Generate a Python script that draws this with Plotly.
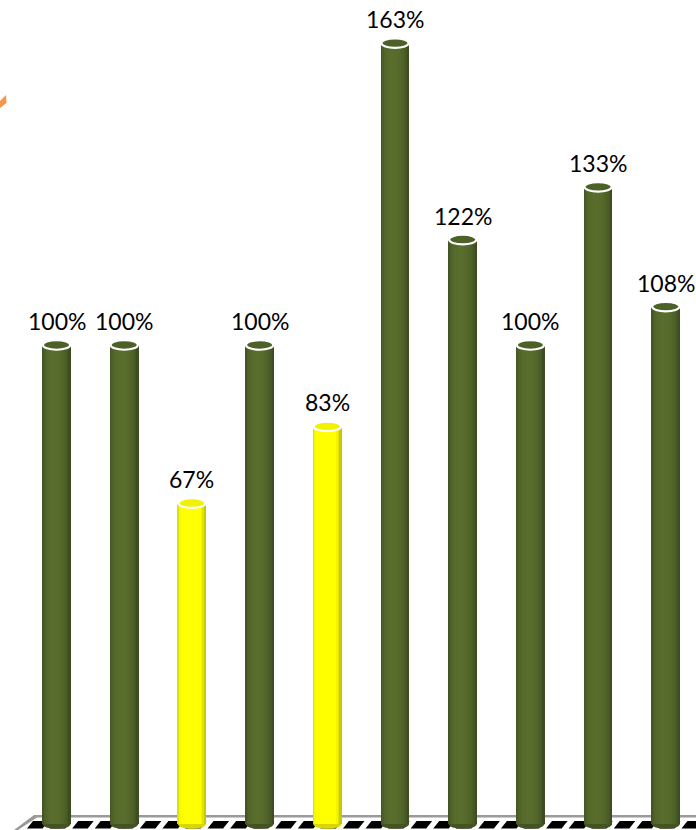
import plotly.graph_objects as go
import math

# ---- data ----
categories = ["1", "2", "3", "4", "5", "6", "7", "8", "9", "10"]
values = [100, 100, 67, 100, 83, 163, 122, 100, 133, 108]
bar_kind = ["green", "green", "yellow", "green", "yellow", "green", "green", "green", "green", "green"]
labels = [f"{v}%" for v in values]

BASE = {"green": (79, 98, 40), "yellow": (255, 255, 0)}
CAP = {"green": "#4d6027", "yellow": "#f2f200"}

W = 0.414          # bar width in category units
N = 18             # strips per cylinder for shading
CAP_H = 1.0        # half-height of cap ellipse in value units

def shade(rgb, f):
    return "rgb(%d,%d,%d)" % tuple(max(0, min(255, int(c * f))) for c in rgb)

xs = list(range(len(categories)))
fig = go.Figure()

for k in range(N):
    t = -1 + (k + 0.5) * 2 / N
    f = 0.70 + 0.42 * math.sqrt(max(0.0, 1 - t * t)) + 0.05 * (-t)
    colors = [shade(BASE[b], f) for b in bar_kind]
    fig.add_trace(go.Bar(
        x=xs, y=values, base=0,
        offset=-W / 2 + k * W / N, width=W / N * 1.2,
        marker=dict(color=colors, line=dict(width=0)),
        hoverinfo="skip", showlegend=False,
    ))

shapes = []
def py(px):
    return 1 - px / 830.0
def pxx(px):
    return px / 696.0

# decorative floor: grey back edge + left slanted edge
shapes.append(dict(type="path", xref="paper", yref="paper", layer="below",
                   path=f"M {pxx(14)},{py(830)} L {pxx(34)},{py(815)} L {pxx(696)},{py(815)} L {pxx(696)},{py(817.5)} L {pxx(37)},{py(817.5)} L {pxx(18)},{py(830)} Z",
                   fillcolor="#9a9a9a", line=dict(width=0)))
# black dashed strip
period = 67.7 / 3
x = 27.0
while x < 700:
    x0 = x
    x1 = x + period - 7
    shapes.append(dict(type="path", xref="paper", yref="paper", layer="below",
                       path=f"M {pxx(x0)},{py(828.5)} L {pxx(x0 + 6)},{py(821)} L {pxx(x1 + 6)},{py(821)} L {pxx(x1)},{py(828.5)} Z",
                       fillcolor="black", line=dict(width=0)))
    x += period

# cylinder bottoms and caps
for i, (v, b) in enumerate(zip(values, bar_kind)):
    shapes.append(dict(type="circle", xref="x", yref="y", layer="below",
                       x0=i - W / 2, x1=i + W / 2, y0=-CAP_H, y1=CAP_H,
                       fillcolor=shade(BASE[b], 0.85), line=dict(width=0)))
    shapes.append(dict(type="circle", xref="x", yref="y", layer="above",
                       x0=i - W / 2 + 0.005, x1=i + W / 2 - 0.005, y0=v - CAP_H, y1=v + CAP_H,
                       fillcolor=CAP[b], line=dict(color="white", width=2.2)))

# orange arrow fragment at top-left
shapes.append(dict(type="path", xref="paper", yref="paper", layer="above",
                   path=f"M {pxx(0)},{py(101)} L {pxx(6)},{py(95)} L {pxx(6.5)},{py(103)} L {pxx(0)},{py(108)} Z",
                   fillcolor="#f79646", line=dict(width=0)))

annotations = [dict(x=i, y=v, text=lab, showarrow=False, xref="x", yref="y",
                    yanchor="bottom", yshift=8,
                    font=dict(family="Lato, Carlito, sans-serif", size=23, color="black"))
               for i, (v, lab) in enumerate(zip(values, labels))]

fig.update_layout(
    width=696, height=830,
    margin=dict(l=0, r=0, t=0, b=0),
    paper_bgcolor="white", plot_bgcolor="white",
    barmode="overlay", bargap=0,
    shapes=shapes, annotations=annotations,
    xaxis=dict(range=[-0.835, 9.446], visible=False, fixedrange=True),
    yaxis=dict(range=[-1.25, 172.0], visible=False, fixedrange=True),
    showlegend=False,
)

fig.write_html("out.html", config={"displayModeBar": False},
               post_script="document.body.style.margin='0';document.body.style.overflow='hidden';")
